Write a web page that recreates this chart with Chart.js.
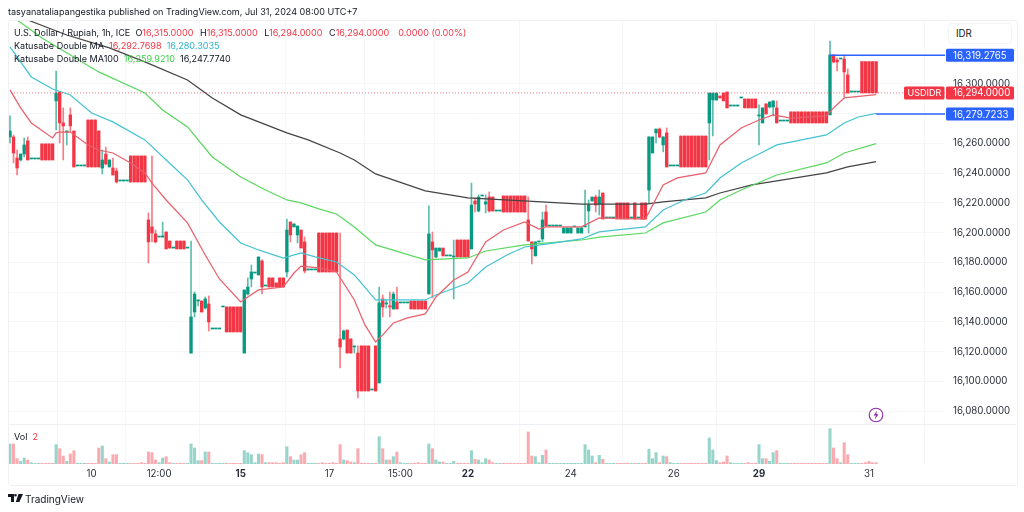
<!DOCTYPE html>
<html><head><meta charset="utf-8">
<style>
html,body{margin:0;padding:0;background:#fff;width:1024px;height:512px;overflow:hidden}
body{font-family:"Inter","Liberation Sans",sans-serif;color:#131722}
#c{position:absolute;left:0;top:0}
.t{position:absolute;white-space:pre;font-size:9.05px;line-height:13px}
.r{color:#f23645}.b{color:#26b5c9}.g{color:#3fcf4a}.m{margin-left:4px}
#frame{position:absolute;left:8px;top:20px;width:1008px;height:464px;border:1px solid #eff0f3;border-radius:3px;box-sizing:content-box}
#idr{position:absolute;left:948px;top:23px;width:62px;height:19px;border:1px solid #f3f4f6;border-radius:4px;font-size:9.7px;line-height:19px;text-indent:7px;background:#fff}
</style></head><body>
<canvas id="c" width="1024" height="512"></canvas>
<div id="frame"></div>
<div class="t" style="left:8px;top:5px">tasyanataliapangestika published on TradingView.com, Jul 31, 2024 08:00 UTC+7</div>
<div class="t" style="left:14px;top:26px">U.S. Dollar / Rupiah, 1h, ICE  O<span class="r">16,315.0000</span><span class="m"> H</span><span class="r">16,315.0000</span><span class="m"> L</span><span class="r">16,294.0000</span><span class="m"> C</span><span class="r">16,294.0000</span><span class="r m">  0.0000 (0.00%)</span></div>
<div class="t" style="left:14px;top:39px">Katusabe Double MA  <span class="r">16,292.7698</span>  <span class="b">16,280.3035</span></div>
<div class="t" style="left:14px;top:52px">Katusabe Double MA100  <span class="g">16,259.9210</span>  16,247.7740</div>
<div class="t" style="left:14px;top:430px">Vol  <span class="r">2</span></div>
<div id="idr">IDR</div>
<svg style="position:absolute;left:868px;top:407px" width="16" height="16" viewBox="0 0 16 16"><circle cx="8" cy="8" r="6.8" fill="#fff" stroke="#8e2ba8" stroke-width="1.1"/><path d="M9.2 3.6 5.6 8.6h2.2l-1 3.8 3.7-5.1H8.2z" fill="#8e2ba8"/></svg>
<svg style="position:absolute;left:8px;top:494px" width="15" height="10" viewBox="0 0 15 10"><path d="M0 0h6v8H3V3H0zM7.5 0a1.3 1.3 0 1 1 0 2.6 1.3 1.3 0 0 1 0-2.6zM10.5 0H15l-3.6 8H7.8z" fill="#131722"/></svg>
<div class="t" style="left:25px;top:492.5px;font-size:10px">TradingView</div>
<script src="https://cdn.jsdelivr.net/npm/chart.js@4/dist/chart.umd.js"></script>
<script>
const opens=[16264.4,16264.4,16250.2,16248.9,16252.9,16261.7,16249.6,16249.6,16249.6,16259.7,
16259.7,16259.7,16259.7,16288.6,16294.6,16273.8,16267.7,16279.2,16268.4,16244.9,
16244.9,16244.9,16275.8,16275.8,16275.8,16268.4,16243.5,16252.9,16244.2,16243.5,
16241.5,16234.8,16234.8,16234.8,16251.6,16251.6,16251.6,16251.6,16251.6,16208.6,
16203.9,16199.2,16197.1,16197.1,16200.5,16194.4,16189.7,16194.4,16194.4,16194.4,
16189.7,16119.1,16146.7,16154.1,16154.1,16149.4,16152.1,16135.3,16135.3,16135.3,
16150.1,16150.1,16150.1,16150.1,16150.1,16150.1,16119.1,16158.8,16168.9,16172.9,
16171.6,16181,16164.2,16169.6,16169.6,16166.2,16169.6,16169.6,16173.6,16207.2,
16203.9,16198.5,16201.8,16193.8,16175,16175,16175,16199.8,16199.8,16199.8,
16199.8,16199.8,16199.8,16128.6,16128.6,16134.6,16128.6,16123.2,16119.1,16123.9,
16123.9,16123.9,16094.3,16123.9,16099,16155.5,16152.1,16150.8,16148.7,16153.4,
16152.8,16152.8,16152.8,16154.1,16154.1,16154.1,16154.1,16154.1,16158.8,16193.8,
16183.7,16187.7,16189.7,16184.4,16184.4,16183.7,16195.1,16195.1,16195.1,16195.1,
16189.1,16221.3,16214.6,16224.7,16219.3,16224,16224,16214.6,16214.6,16224.7,
16224.7,16224.7,16224.7,16224.7,16224.7,16224.7,16208.6,16193.8,16184.4,16193.8,
16195.8,16213.9,16204.5,16204.5,16204.5,16204.5,16199.8,16199.8,16199.8,16203.9,
16199.8,16199.8,16203.9,16214.6,16221.3,16224,16219.3,16226.7,16209.9,16209.9,
16209.9,16220,16220,16220,16220,16209.9,16220,16209.9,16220,16220,
16228.7,16253.6,16267.1,16269.7,16259,16267.1,16244.9,16244.9,16244.9,16265,
16265,16265,16265,16265,16265,16265,16265,16273.8,16289.2,16289.2,
16291.9,16293.9,16294.6,16285.2,16285.2,16285.2,16290.6,16289.9,16289.9,16289.9,
16289.9,16278.5,16273.8,16286.6,16284.5,16284.5,16283.9,16275.1,16275.1,16275.1,
16281.2,16281.2,16281.2,16281.2,16281.2,16281.2,16281.2,16281.2,16281.2,16281.2,
16281.2,16279.2,16319.5,16316.1,16316.8,16316.8,16306.1,16294.6,16294.6,16294.6,
16315,16315,16315,16315,16315];
const closes=[16268.4,16253.6,16243.5,16252.9,16259,16248.9,16249.6,16249.6,16249.6,16248.9,
16248.9,16248.9,16248.9,16293.9,16273.8,16271.8,16268.4,16271.8,16244.2,16244.9,
16244.9,16244.9,16244.2,16244.2,16244.2,16244.2,16248.9,16246.2,16248.9,16238.8,
16234.1,16234.8,16234.8,16234.8,16234.1,16234.1,16234.1,16234.1,16234.1,16193.8,
16199.8,16193.8,16197.1,16197.8,16189.1,16189.7,16189.7,16189.1,16189.1,16189.1,
16189.7,16143.4,16158.8,16154.8,16146.7,16155.5,16140,16135.3,16135.3,16135.3,
16150.1,16133.3,16133.3,16133.3,16133.3,16133.3,16161.5,16163.5,16173.6,16172.9,
16183.7,16163.5,16164.2,16163.5,16163.5,16163.5,16163.5,16163.5,16201.8,16198.5,
16205.9,16204.5,16189.7,16174.3,16175,16175,16175,16173.6,16173.6,16173.6,
16173.6,16173.6,16173.6,16123.2,16133.9,16119.1,16119.1,16123.9,16093.6,16093.6,
16093.6,16093.6,16094.3,16093.6,16152.8,16150.1,16152.8,16150.1,16158.8,16148.7,
16152.8,16152.8,16152.8,16148.7,16148.7,16148.7,16148.7,16148.7,16199.2,16188.4,
16189.7,16189.7,16184.4,16184.4,16184.4,16184.4,16183.7,16183.7,16183.7,16183.7,
16218.6,16219.3,16224,16224.7,16220.7,16214.6,16214.6,16214.6,16214.6,16213.9,
16213.9,16213.9,16213.9,16213.9,16213.9,16213.9,16194.4,16189.1,16193.8,16193.8,
16208.6,16204.5,16204.5,16204.5,16204.5,16204.5,16203.2,16203.2,16203.2,16203.9,
16203.2,16203.2,16204.5,16218.6,16224,16218.6,16224,16209.2,16209.9,16209.9,
16209.9,16209.2,16209.2,16209.2,16209.2,16209.9,16209.2,16209.9,16209.2,16209.2,
16264.4,16264.4,16269.7,16264.4,16264.4,16244.2,16244.9,16244.9,16244.9,16244.2,
16244.2,16244.2,16244.2,16244.2,16244.2,16244.2,16244.2,16293.9,16293.9,16293.9,
16290.6,16288.6,16283.9,16285.2,16285.2,16285.2,16290.6,16283.9,16283.9,16283.9,
16283.9,16279.2,16283.9,16279.8,16287.9,16288.6,16273.8,16275.1,16275.1,16275.1,
16273.8,16273.8,16273.8,16273.8,16273.8,16273.8,16273.8,16273.8,16273.8,16273.8,
16273.8,16319.5,16314.8,16314.8,16316.8,16308.1,16293.9,16294.6,16294.6,16294.6,
16294,16294,16294,16294,16294];
const highs=[16278.5,16265.7,16255.6,16252.9,16263.7,16264.4,16249.6,16249.6,16249.6,16259.7,
16259.7,16259.7,16259.7,16308.7,16294.6,16283.9,16268.4,16283.9,16268.4,16244.9,
16244.9,16244.9,16275.8,16275.8,16275.8,16268.4,16255.6,16257.6,16248.9,16250.2,
16243.5,16234.8,16234.8,16234.8,16251.6,16251.6,16251.6,16251.6,16251.6,16213.3,
16251.6,16201.8,16197.1,16207.2,16200.5,16194.4,16189.7,16194.4,16194.4,16194.4,
16189.7,16194.4,16160.2,16154.8,16154.1,16156.8,16157.5,16135.3,16135.3,16135.3,
16150.1,16150.1,16150.1,16150.1,16150.1,16150.1,16161.5,16169.6,16178.3,16172.9,
16183.7,16181.7,16164.2,16169.6,16169.6,16166.2,16169.6,16169.6,16209.2,16207.2,
16205.9,16204.5,16201.8,16197.1,16175,16175,16175,16199.8,16199.8,16199.8,
16199.8,16199.8,16199.8,16199.8,16134.6,16134.6,16128.6,16123.9,16123.9,16123.9,
16123.9,16123.9,16094.3,16123.9,16163.5,16158.1,16154.8,16160.2,16160.2,16163.5,
16152.8,16152.8,16152.8,16154.1,16154.1,16154.1,16154.1,16154.1,16218,16200.5,
16189.7,16189.7,16189.7,16184.4,16184.4,16195.1,16195.1,16195.1,16195.1,16195.1,
16233.4,16223.4,16225.4,16224.7,16225.4,16227.4,16224,16214.6,16214.6,16224.7,
16224.7,16224.7,16224.7,16224.7,16224.7,16224.7,16224,16193.8,16193.8,16193.8,
16213.9,16218.6,16204.5,16204.5,16204.5,16204.5,16203.2,16203.2,16203.2,16203.9,
16203.2,16203.2,16228.7,16222,16224,16225.4,16228.7,16226.7,16209.9,16209.9,
16209.9,16220,16220,16220,16220,16209.9,16220,16209.9,16220,16220,
16264.4,16264.4,16269.7,16270.4,16264.4,16270.4,16244.9,16244.9,16244.9,16265,
16265,16265,16265,16265,16265,16265,16265,16293.9,16293.9,16293.9,
16291.9,16293.9,16294.6,16285.2,16285.2,16285.2,16290.6,16289.9,16289.9,16289.9,
16289.9,16285.9,16283.9,16286.6,16287.9,16288.6,16288.6,16275.1,16275.1,16275.1,
16281.2,16281.2,16281.2,16281.2,16281.2,16281.2,16281.2,16281.2,16281.2,16281.2,
16281.2,16328.9,16319.5,16317.5,16316.8,16319.5,16310.1,16294.6,16294.6,16294.6,
16315,16315,16315,16315,16315];
const lows=[16260.3,16246.9,16238.8,16248.2,16250.9,16248.9,16249.6,16249.6,16249.6,16248.9,
16248.9,16248.9,16248.9,16269.1,16260.3,16248.9,16259,16267.7,16244.2,16244.9,
16244.9,16244.9,16244.2,16244.2,16244.2,16244.2,16239.5,16245.5,16244.2,16238.8,
16233.4,16234.8,16234.8,16234.8,16234.1,16234.1,16234.1,16234.1,16234.1,16179.7,
16193.8,16193.1,16197.1,16197.1,16189.1,16189.7,16189.7,16189.1,16189.1,16189.1,
16189.7,16119.1,16143.4,16150.8,16146.7,16148.7,16133.9,16135.3,16135.3,16135.3,
16150.1,16133.3,16133.3,16133.3,16133.3,16133.3,16119.1,16158.1,16163.5,16172.9,
16171.6,16158.8,16164.2,16163.5,16163.5,16163.5,16163.5,16163.5,16170.2,16193.8,
16203.9,16193.1,16189.7,16172.9,16175,16175,16175,16173.6,16173.6,16173.6,
16173.6,16173.6,16173.6,16109.1,16127.9,16119.1,16119.1,16119.1,16088.9,16093.6,
16093.6,16093.6,16094.3,16093.6,16099,16143.4,16149.4,16143.4,16148.7,16148.7,
16152.8,16152.8,16152.8,16148.7,16148.7,16148.7,16148.7,16148.7,16158.8,16156.1,
16183,16187.7,16184.4,16184.4,16184.4,16155.5,16183.7,16183.7,16183.7,16183.7,
16189.1,16213.9,16213.9,16224.7,16213.3,16213.9,16214.6,16214.6,16214.6,16213.9,
16213.9,16213.9,16213.9,16213.9,16213.9,16213.9,16194.4,16179,16184.4,16193.8,
16193.8,16204.5,16204.5,16204.5,16204.5,16204.5,16199.8,16199.8,16199.8,16203.9,
16199.8,16199.8,16203.9,16199.8,16221.3,16213.9,16211.9,16209.2,16209.9,16209.9,
16209.9,16209.2,16209.2,16209.2,16209.2,16209.9,16209.2,16209.9,16209.2,16209.2,
16220,16253.6,16260.3,16263.7,16254.3,16244.2,16244.9,16244.9,16244.9,16244.2,
16244.2,16244.2,16244.2,16244.2,16244.2,16244.2,16244.2,16248.9,16265,16289.2,
16290.6,16288.6,16283.9,16285.2,16285.2,16285.2,16290.6,16283.9,16283.9,16283.9,
16283.9,16259,16273.8,16279.8,16283.9,16278.5,16273.8,16275.1,16275.1,16275.1,
16273.8,16273.8,16273.8,16273.8,16273.8,16273.8,16273.8,16273.8,16273.8,16273.8,
16273.8,16279.2,16314.1,16308.7,16316.8,16291.3,16293.9,16294.6,16294.6,16294.6,
16294,16294,16294,16294,16294];
const volumes=[30,30,8,4,9,6,2,1,1,1,
1,1,1,29,23,12,4,15,20,1,
1,1,1,1,1,24,27,8,3,14,
14,1,1,1,1,1,1,2,1,18,
17,6,2,9,11,2,1,1,1,1,
1,30,24,5,5,18,18,1,1,1,
1,1,1,1,1,1,20,17,14,2,
15,14,2,2,2,2,1,2,26,11,
6,6,14,17,1,1,1,1,2,1,
1,2,1,29,6,5,3,2,23,1,
1,1,1,1,41,23,6,6,11,18,
2,1,1,1,1,2,1,1,30,23,
6,3,3,1,1,4,1,1,1,1,
20,7,6,2,8,6,2,1,1,1,
1,1,1,1,1,1,48,12,11,2,
13,21,1,1,1,1,1,1,1,1,
1,1,29,21,12,2,13,7,1,1,
1,1,1,1,1,1,1,1,1,1,
22,8,17,2,12,11,2,1,1,1,
1,1,1,1,1,1,1,39,21,5,
2,3,12,2,1,1,1,1,2,1,
1,29,8,8,4,17,20,1,1,1,
1,1,1,1,1,1,1,1,1,1,
1,53,24,8,2,32,14,1,1,1,
1,2,4,2,2];

const fastIdx=[0,3,6,12,13,14,17,22,25,29,34,38,40,44,50,55,59,65,67,70,77,80,82,87,92,97,100,103,105,108,112,117,120,125,129,134,139,145,149,151,161,166,179,184,188,196,200,206,211,215,220,230,232,235,244];
const fastVal=[16296,16283.9,16273.8,16263.7,16267.1,16267.7,16267.7,16259,16255.6,16253.6,16246.9,16240.2,16233.4,16222,16206.6,16185,16168.9,16153.4,16156.8,16161.5,16163.5,16172.9,16177.6,16176.3,16173.6,16154.8,16138,16126.5,16131.3,16139.3,16142.7,16145.4,16156.8,16168.2,16173.6,16193.8,16201.8,16207.2,16202.5,16203.9,16203.9,16209.9,16209.2,16232.1,16236.8,16240.2,16259,16270.4,16275.8,16279.2,16277.1,16278.5,16283.9,16290.6,16292.77];
const slowIdx=[0,6,12,17,23,29,38,44,50,54,59,65,70,77,82,86,92,97,103,117,120,129,134,140,145,151,161,166,179,184,190,196,200,206,211,216,230,235,239,244];
const slowVal=[16324.9,16304.7,16296.6,16292.6,16280.5,16274.5,16262.4,16248.9,16235.5,16222,16207.2,16193.1,16188.4,16183,16186.4,16183.7,16180.3,16171.6,16154.8,16154.8,16158.1,16166.2,16177,16185,16190.4,16192.4,16195.8,16200.5,16203.9,16215.3,16222,16226.7,16236.8,16246.9,16252.9,16259,16265.7,16273.8,16277.8,16280.3];
const ma100aIdx=[2,9,17,25,38,43,50,57,65,72,78,82,87,92,97,103,117,129,134,145,161,166,179,184,196,200,206,216,230,235,244];
const ma100aVal=[16343,16330.9,16319.5,16308.1,16293.9,16282.5,16271.1,16250.9,16237.5,16228.7,16222,16220,16216,16212.6,16203.9,16191.8,16181.7,16183,16187.7,16191.8,16195.1,16197.1,16199.8,16206.6,16213.9,16222,16228.7,16238.8,16246.9,16253.6,16259.92];
const ma100bIdx=[5,16,28,38,50,57,65,78,84,93,97,103,117,129,146,161,179,184,196,200,209,230,236,244];
const ma100bVal=[16343,16332.9,16324.2,16314.8,16302.7,16290.6,16279.2,16267.1,16262.4,16253.6,16248.9,16239.5,16228.1,16223.4,16221.3,16219.3,16219.3,16220.7,16223.4,16226.7,16232.1,16240.2,16244.2,16247.77];

const yTicks=[16080,16100,16120,16140,16160,16180,16200,16220,16240,16260,16280,16300];
const yHiddenLabels=[16280];
const xTicks=[23,42,65,90,110,129,158,187,211,242];
const xLabels=['10','12:00','15','17','15:00','22','24','26','29','31'];
const xBold=['15','22','29'];
const lastPrice=16294, upperBand=16319.2765, lowerBand=16279.7233;
const upperStart=231, lowerStart=244;
const symbol='USDIDR';

if(new Set([opens.length,closes.length,highs.length,lows.length,volumes.length]).size!==1) throw new Error('len '+[opens.length,closes.length,highs.length,lows.length,volumes.length]);

const X_MIN=-0.56,X_MAX=263.4;
const GREEN='#089981',RED='#f23645',BLUE='#2962ff';
const up=i=>closes[i]>=opens[i];
const pts=(xs,ys)=>xs.map((x,i)=>({x,y:ys[i]}));
const lineDs=(xs,ys,color)=>({type:'line',data:pts(xs,ys),borderColor:color,borderWidth:1.25,pointRadius:0,tension:0,yAxisID:'y',xAxisID:'x',order:1});
const fmt=v=>v.toLocaleString('en-US',{minimumFractionDigits:4,maximumFractionDigits:4});

const tags={id:'tags',afterDatasetsDraw(ch){
  const c=ch.ctx,y=ch.scales.y,L=ch.chartArea.right;
  const tag=(x,w,v,col,txt,size,pad)=>{const py=y.getPixelForValue(v);
    c.save();c.fillStyle=col;c.beginPath();c.roundRect(x,py-6.5,w,13,1.5);c.fill();
    c.fillStyle='#fff';c.font=size+'px Inter';c.textBaseline='middle';c.textAlign='left';c.fillText(txt,x+pad,py+0.5);c.restore();};
  tag(L+1,68,upperBand,BLUE,fmt(upperBand),9.7,7);
  tag(L+1,68,lowerBand,BLUE,fmt(lowerBand),9.7,7);
  tag(L+1,68,lastPrice,RED,fmt(lastPrice),9.7,7);
  tag(L-41,40.5,lastPrice,RED,symbol,9,3.5);
  c.save();c.strokeStyle='#eff0f3';c.lineWidth=1;c.beginPath();
  const py=Math.round(ch.scales.yVol.top)+0.5;c.moveTo(8,py);c.lineTo(1016,py);c.stroke();c.restore();
}};

const idx=opens.map((_,i)=>i);
new Chart(document.getElementById('c'),{
  type:'bar',
  plugins:[tags],
  data:{datasets:[
    {type:'line',data:[{x:X_MIN,y:lastPrice},{x:X_MAX,y:lastPrice}],borderColor:'rgba(242,54,69,.65)',borderWidth:1,borderDash:[1,2],pointRadius:0,yAxisID:'y',order:0},
    {type:'line',data:[{x:upperStart,y:upperBand},{x:X_MAX,y:upperBand}],borderColor:BLUE,borderWidth:1.5,pointRadius:0,yAxisID:'y',order:0},
    {type:'line',data:[{x:lowerStart,y:lowerBand},{x:X_MAX,y:lowerBand}],borderColor:BLUE,borderWidth:1.5,pointRadius:0,yAxisID:'y',order:0},
    lineDs(fastIdx,fastVal,'#e8606b'),
    lineDs(slowIdx,slowVal,'#45c3d2'),
    lineDs(ma100aIdx,ma100aVal,'#5ad85f'),
    lineDs(ma100bIdx,ma100bVal,'#444444'),
    {label:'wick',data:idx.map(i=>({x:i,y:[lows[i],highs[i]]})),backgroundColor:idx.map(i=>up(i)?'rgba(8,153,129,.65)':'rgba(242,54,69,.65)'),barThickness:1,grouped:false,yAxisID:'y',order:3},
    {label:'body',data:idx.map(i=>({x:i,y:[opens[i],closes[i]]})),backgroundColor:idx.map(i=>up(i)?GREEN:RED),barThickness:2.7,minBarLength:1,grouped:false,yAxisID:'y',order:2},
    {label:'vol',data:idx.map(i=>({x:i,y:volumes[i]})),backgroundColor:idx.map(i=>up(i)?'rgba(8,153,129,.42)':'rgba(242,54,69,.42)'),barThickness:2.4,grouped:false,yAxisID:'yVol',order:4}
  ]},
  options:{
    responsive:false,animation:false,
    layout:{padding:{left:8,top:20,right:7,bottom:27}},
    plugins:{legend:{display:false},tooltip:{enabled:false}},
    scales:{
      x:{type:'linear',offset:false,min:X_MIN,max:X_MAX,position:'bottom',
        afterBuildTicks:s=>{s.ticks=xTicks.map(v=>({value:v}));},
        afterFit:s=>{s.height=21;},
        grid:{color:'#f5f6f8',drawTicks:false},border:{display:false},
        ticks:{autoSkip:false,maxRotation:0,padding:4,color:'#2a2e39',
          callback:v=>xLabels[xTicks.indexOf(v)],
          font:c=>({family:'Inter',size:9.7,weight:c.tick&&xBold.includes(xLabels[xTicks.indexOf(c.tick.value)])?'bold':'normal'})}},
      y:{type:'linear',position:'right',min:16071.4,max:16343,stack:'p',stackWeight:404,weight:1,
        afterBuildTicks:s=>{s.ticks=yTicks.map(v=>({value:v}));},
        afterFit:s=>{s.width=72;},
        grid:{color:'#f5f6f8',drawTicks:false},border:{display:false},
        ticks:{autoSkip:false,padding:8,color:'#2a2e39',crossAlign:'near',
          callback:v=>yHiddenLabels.includes(v)?'':fmt(v),font:{family:'Inter',size:9.7}}},
      yVol:{type:'linear',position:'right',min:0,max:60,stack:'p',stackWeight:40,weight:2,
        afterFit:s=>{s.width=72;},
        grid:{display:false},border:{display:false},ticks:{display:false}}
    }
  }
});
</script>
</body></html>
